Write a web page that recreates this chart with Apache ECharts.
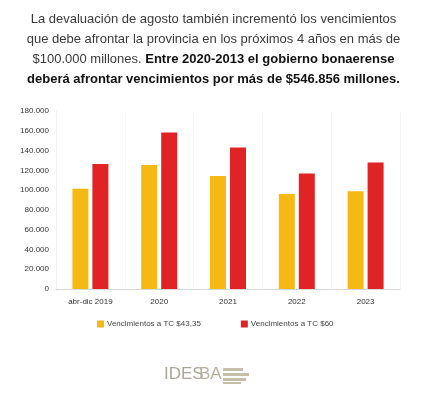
<!DOCTYPE html>
<html>
<head>
<meta charset="utf-8">
<script src="https://cdn.jsdelivr.net/npm/echarts@6/dist/echarts.min.js"></script>
<style>
html,body{margin:0;padding:0;background:#fff;}
#c{width:427px;height:395px;}
</style>
</head>
<body>
<div id="c"></div>
<script>
const categories = ['abr-dic 2019', '2020', '2021', '2022', '2023'];
const seriesNames = ['Vencimientos a TC $43,35', 'Vencimientos a TC $60'];
const tc4335 = [101400, 125300, 114200, 96100, 98800];
const tc60 = [126300, 158300, 143100, 116900, 128000];
const yTicks = [0, 20000, 40000, 60000, 80000, 100000, 120000, 140000, 160000, 180000];

const fmt = v => String(v).replace(/\B(?=(\d{3})+(?!\d))/g, '.');
const FONT = '"Liberation Sans", Arial, sans-serif';

const chart = echarts.init(document.getElementById('c'), null, {renderer: 'canvas'});
chart.setOption({
  backgroundColor: '#ffffff',
  animation: false,
  title: {
    left: 'center',
    top: 4,
    text: '{n|La devaluación de agosto también incrementó los vencimientos}\n' +
          '{n|que debe afrontar la provincia en los próximos 4 años en más de}\n' +
          '{n|$100.000 millones. }{b|Entre 2020-2013 el gobierno bonaerense}\n' +
          '{b|deberá afrontar vencimientos por más de $546.856 millones.}',
    textStyle: {
      fontFamily: FONT,
      fontSize: 13,
      lineHeight: 20,
      align: 'center',
      rich: {
        n: {fontFamily: FONT, fontSize: 13, lineHeight: 20, color: '#3a3a3a', fontWeight: 'normal'},
        b: {fontFamily: FONT, fontSize: 13, lineHeight: 20, color: '#111', fontWeight: 'bold'}
      }
    }
  },
  grid: {left: 56, right: 27, top: 111, bottom: 106, containLabel: false},
  legend: {
    data: seriesNames,
    left: 92,
    top: 315,
    itemWidth: 7,
    itemHeight: 7,
    itemGap: 40,
    icon: 'rect',
    textStyle: {fontFamily: FONT, fontSize: 8, color: '#444', padding: [0, 0, 0, -2]}
  },
  xAxis: {
    type: 'category',
    data: categories,
    axisLine: {lineStyle: {color: '#d8d8d8', width: 1}},
    axisTick: {show: false},
    axisLabel: {fontFamily: FONT, fontSize: 8, color: '#333', margin: 9},
    splitLine: {show: true, lineStyle: {color: '#f6f6f6'}}
  },
  yAxis: {
    type: 'value',
    min: 0,
    max: 180000,
    interval: 20000,
    axisLine: {show: true, lineStyle: {color: '#f2f2f2'}},
    axisTick: {show: false},
    splitLine: {show: false},
    axisLabel: {fontFamily: FONT, fontSize: 8, color: '#333', margin: 7,
      formatter: v => yTicks.includes(v) ? fmt(v) : ''}
  },
  series: [
    {name: seriesNames[0], type: 'bar', data: tc4335, barWidth: 16, barGap: '25%',
     itemStyle: {color: '#F6B813'}},
    {name: seriesNames[1], type: 'bar', data: tc60, barWidth: 16, barGap: '25%',
     itemStyle: {color: '#E02324'}}
  ],
  graphic: [
    {type: 'text', left: 164, top: 366,
     style: {text: 'IDES', fontFamily: FONT, fontSize: 17, fill: '#a9a79c', fontWeight: 'normal'}},
    {type: 'text', left: 199, top: 366,
     style: {text: 'BA', fontFamily: FONT, fontSize: 17, fill: '#b8b09e', fontWeight: 'normal'}},
    {type: 'rect', shape: {x: 223, y: 368, width: 20, height: 3}, style: {fill: '#c7bea9'}},
    {type: 'rect', shape: {x: 223, y: 373, width: 26, height: 3}, style: {fill: '#c7bea9'}},
    {type: 'rect', shape: {x: 223, y: 378, width: 23, height: 3}, style: {fill: '#c7bea9'}},
    {type: 'rect', shape: {x: 223, y: 382, width: 18, height: 2}, style: {fill: '#c7bea9'}}
  ]
});
</script>
</body>
</html>
